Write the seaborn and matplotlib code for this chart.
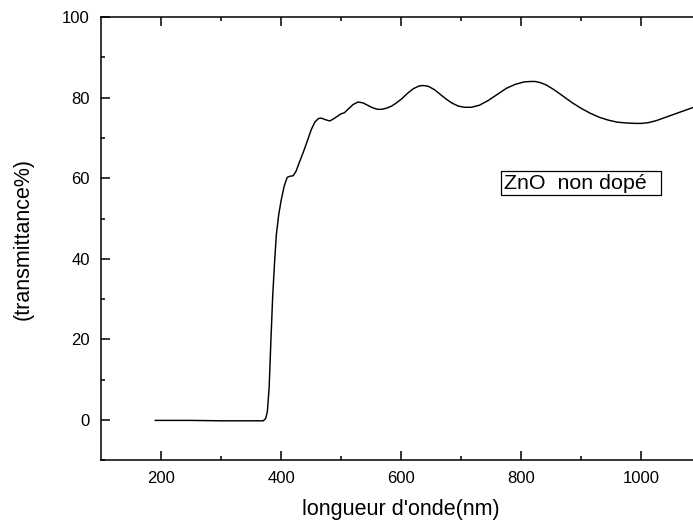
import matplotlib
matplotlib.use("Agg")
import matplotlib.pyplot as plt
import seaborn as sns
import pandas as pd

# Transmittance spectrum of an undoped ZnO film
wavelength_nm = [190, 200, 250, 300, 350, 370, 374, 377, 380, 383, 386, 389, 392, 396,
                 400, 405, 410, 415, 420, 425, 430, 437, 443, 450, 456, 462, 467, 474,
                 481, 488, 495, 500, 505, 512, 520, 528, 536, 544, 552, 560, 568, 576,
                 584, 592, 600, 610, 620, 630, 637, 645, 655, 665, 675, 685, 695, 705,
                 717, 730, 745, 760, 775, 790, 805, 815, 823, 832, 842, 855, 870, 885,
                 900, 915, 930, 945, 960, 975, 990, 1000, 1012, 1025, 1040, 1055, 1070,
                 1085, 1100]
transmittance = [-0.1, -0.1, -0.1, -0.2, -0.2, -0.2, 0.3, 2.0, 8.0, 20.0, 31.0, 39.0, 46.0, 51.0,
                 54.5, 58.0, 60.2, 60.5, 60.6, 61.8, 63.8, 66.5, 69.0, 72.0, 73.9, 74.8, 74.9, 74.5,
                 74.2, 74.8, 75.5, 76.0, 76.2, 77.2, 78.3, 78.9, 78.7, 78.1, 77.5, 77.1, 77.1, 77.4,
                 77.9, 78.7, 79.6, 81.0, 82.2, 82.9, 83.0, 82.8, 82.0, 80.8, 79.6, 78.6, 77.9, 77.6,
                 77.6, 78.1, 79.3, 80.8, 82.3, 83.3, 83.9, 84.0, 84.0, 83.7, 83.1, 81.9, 80.3, 78.7,
                 77.3, 76.1, 75.1, 74.4, 73.9, 73.7, 73.6, 73.6, 73.8, 74.3, 75.1, 75.9, 76.7,
                 77.5, 78.3]

x_ticks = [200, 400, 600, 800, 1000]
y_ticks = [0, 20, 40, 60, 80, 100]
sample_label = "ZnO  non dopé  "

sns.set_theme(style="ticks")
plt.rcParams["font.family"] = ["Liberation Sans", "DejaVu Sans"]
plt.rcParams["axes.linewidth"] = 1.1
plt.rcParams["text.color"] = "black"
plt.rcParams["axes.labelcolor"] = "black"

df = pd.DataFrame({"wavelength": wavelength_nm, "T": transmittance})

fig = plt.figure(figsize=(6.93, 5.25), dpi=100)
ax = fig.add_axes([101 / 693, 64.7 / 525, 600.5 / 693, 443.3 / 525])

sns.lineplot(data=df, x="wavelength", y="T", ax=ax, color="black", linewidth=1.05,
             sort=False, estimator=None)

ax.set_xlim(100, 1100)
ax.set_ylim(-10, 100)
ax.set_xticks(x_ticks)
ax.set_yticks(y_ticks)
ax.set_xticks([300, 500, 700, 900, 1100], minor=True)
ax.set_yticks([-10, 10, 30, 50, 70, 90], minor=True)

for side in ["top", "right", "bottom", "left"]:
    ax.spines[side].set_visible(True)
    ax.spines[side].set_color("black")
    ax.spines[side].set_linewidth(1.1)

ax.tick_params(axis="both", which="major", direction="in", length=6.2, width=1.1,
               labelsize=12, colors="black", labelcolor="black", top=True, right=True, pad=8)
ax.tick_params(axis="both", which="minor", direction="in", length=3.2, width=1.1,
               colors="black", top=True, right=True)

ax.set_xlabel("longueur d'onde(nm)", fontsize=15.5, labelpad=9, color="black")
ax.set_ylabel("(transmittance%)", fontsize=15.5, color="black")
ax.yaxis.set_label_coords(-0.1116, 0.5)

ax.text(771, 58.8, sample_label, fontsize=15.4, ha="left", va="center", color="black",
        bbox=dict(boxstyle="square,pad=0.12", facecolor="white", edgecolor="black",
                  linewidth=0.9))

fig.savefig("out.png", dpi=100)
